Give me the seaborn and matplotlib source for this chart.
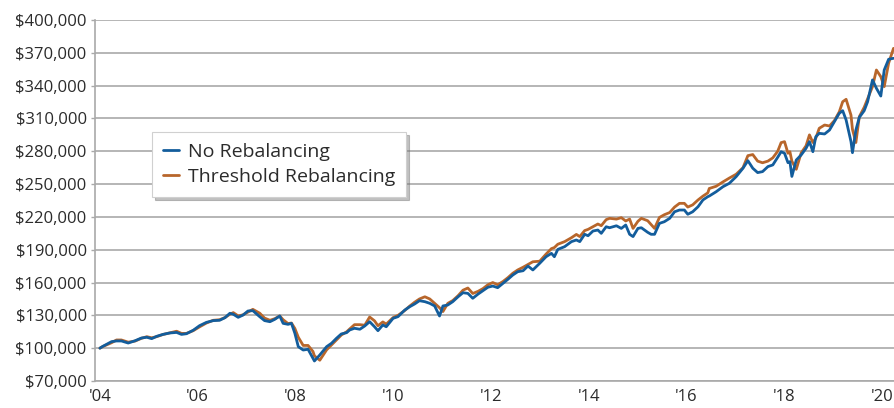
import matplotlib
matplotlib.use("Agg")
import matplotlib.pyplot as plt
import seaborn as sns
import pandas as pd
from matplotlib.ticker import FuncFormatter, FixedLocator

# ---------------- data (values in $ thousands) ----------------
years = [2004.00, 2004.06, 2004.24, 2004.34, 2004.44, 2004.58, 2004.72, 2004.85, 2004.96,
         2005.06, 2005.16, 2005.29, 2005.43, 2005.57, 2005.67, 2005.77, 2005.91,
         2006.04, 2006.18, 2006.32, 2006.45, 2006.56, 2006.66, 2006.73, 2006.83, 2006.93,
         2007.03, 2007.13, 2007.27, 2007.37, 2007.48, 2007.58, 2007.68, 2007.75, 2007.85, 2007.92, 2007.99,
         2008.06, 2008.16, 2008.26, 2008.36, 2008.39, 2008.50, 2008.64, 2008.74, 2008.84, 2008.94,
         2009.05, 2009.11, 2009.21, 2009.32, 2009.42, 2009.52, 2009.62, 2009.69, 2009.79, 2009.86,
         2010.00, 2010.10, 2010.24, 2010.34, 2010.44, 2010.54, 2010.65, 2010.75, 2010.85, 2010.95,
         2011.02, 2011.12, 2011.22, 2011.33, 2011.43, 2011.53, 2011.63, 2011.74, 2011.84, 2011.94,
         2012.04, 2012.14, 2012.25, 2012.35, 2012.45, 2012.55, 2012.66, 2012.76, 2012.86,
         2013.00, 2013.13, 2013.24, 2013.30, 2013.37, 2013.51, 2013.65, 2013.75, 2013.82, 2013.92, 2013.99,
         2014.09, 2014.19, 2014.26, 2014.36, 2014.43, 2014.57, 2014.67, 2014.76, 2014.84, 2014.91,
         2015.01, 2015.08, 2015.21, 2015.28, 2015.35, 2015.45, 2015.55, 2015.66, 2015.76, 2015.86, 2015.96,
         2016.03, 2016.13, 2016.24, 2016.34, 2016.44, 2016.47, 2016.61, 2016.75, 2016.88,
         2017.02, 2017.16, 2017.26, 2017.36, 2017.46, 2017.56, 2017.67, 2017.77, 2017.87, 2017.94,
         2018.01, 2018.08, 2018.12, 2018.16, 2018.25, 2018.35, 2018.45, 2018.52, 2018.59, 2018.65,
         2018.72, 2018.83, 2018.93,
         2019.03, 2019.13, 2019.20, 2019.27, 2019.37, 2019.40, 2019.47, 2019.54, 2019.64, 2019.71,
         2019.81, 2019.89, 2019.98, 2020.05, 2020.14, 2020.24]

no_rebalancing = [100.0, 101.7, 106.0, 106.6, 106.6, 104.7, 106.8, 109.3, 110.0,
                  108.7, 110.8, 112.6, 113.9, 114.4, 112.6, 113.2, 116.4,
                  120.6, 123.6, 125.2, 125.5, 127.9, 131.9, 131.0, 128.2, 130.3,
                  134.0, 134.3, 128.8, 125.2, 124.2, 126.4, 129.4, 122.7, 121.8, 122.7, 113.6,
                  101.4, 98.3, 99.0, 90.8, 88.3, 93.8, 101.4, 104.5, 109.0, 113.0,
                  114.2, 116.6, 118.2, 117.3, 120.3, 124.2, 119.6, 116.0, 121.2, 119.6,
                  127.3, 128.8, 134.9, 137.9, 140.4, 143.4, 142.5, 141.0, 138.6, 129.4,
                  138.6, 139.5, 142.5, 147.0, 150.7, 150.1, 145.6, 149.5, 152.6, 155.7,
                  156.8, 155.3, 159.3, 163.0, 166.9, 169.9, 170.8, 175.1, 171.5,
                  177.6, 183.6, 186.7, 183.6, 190.3, 192.8, 197.4, 198.9, 197.4, 204.1, 202.8,
                  207.1, 208.0, 205.0, 211.0, 210.1, 211.9, 209.5, 212.6, 204.1, 202.0,
                  209.5, 210.1, 205.9, 204.1, 204.1, 214.1, 215.6, 218.7, 224.7, 226.3, 226.3,
                  222.4, 224.7, 229.3, 235.5, 238.5, 239.1, 243.0, 247.6, 250.7,
                  256.8, 264.5, 271.4, 264.5, 260.5, 261.4, 266.0, 267.5, 274.5, 279.6,
                  278.2, 269.6, 270.5, 257.0, 272.0, 276.6, 282.7, 288.8, 279.6, 293.3,
                  296.4, 295.8, 299.4,
                  307.0, 314.7, 317.1, 308.6, 288.8, 278.7, 299.4, 311.0, 317.1, 325.3,
                  345.2, 337.6, 330.5, 354.3, 364.1, 365.0]

threshold_rebalancing = [100.0, 101.5, 105.0, 107.5, 107.5, 105.5, 106.5, 109.0, 110.5,
                         109.5, 110.5, 112.5, 114.0, 115.5, 113.5, 113.5, 116.0,
                         119.5, 123.0, 125.5, 126.0, 128.0, 131.0, 132.5, 129.5, 130.5,
                         133.0, 135.5, 132.0, 127.5, 125.5, 127.0, 129.5, 126.0, 122.5, 123.0, 118.0,
                         110.0, 102.5, 102.5, 97.0, 93.0, 89.0, 98.5, 103.0, 107.5, 112.0,
                         115.0, 117.5, 121.5, 121.5, 121.0, 128.5, 125.0, 120.5, 124.0, 122.0,
                         128.0, 130.0, 134.5, 138.5, 142.0, 145.0, 147.0, 145.0, 141.0, 137.0,
                         133.5, 141.0, 143.5, 148.0, 153.0, 155.0, 150.0, 152.0, 154.5, 158.0,
                         160.0, 158.0, 161.0, 164.5, 168.5, 171.5, 174.0, 176.5, 179.0,
                         179.5, 186.0, 191.0, 192.0, 195.0, 197.4, 201.0, 204.0, 202.0, 207.5, 208.6,
                         211.0, 213.5, 212.0, 217.5, 218.7, 218.0, 219.3, 216.3, 218.0, 209.5,
                         216.0, 218.7, 216.5, 213.0, 209.5, 219.5, 222.0, 224.0, 229.0, 232.4, 232.4,
                         229.0, 231.0, 235.5, 239.0, 242.0, 246.0, 248.0, 252.0, 255.5,
                         259.0, 265.0, 276.0, 277.0, 271.0, 269.5, 271.0, 274.0, 280.0, 287.9,
                         288.8, 278.2, 279.6, 271.0, 263.5, 278.5, 285.0, 295.0, 288.0, 292.0,
                         301.0, 304.0, 303.1,
                         308.0, 316.0, 325.3, 327.5, 313.0, 300.0, 288.0, 311.6, 320.2, 328.0,
                         339.1, 354.3, 348.2, 339.1, 360.5, 374.1]

y_ticks = [70000, 100000, 130000, 160000, 190000, 220000, 250000, 280000, 310000, 340000, 370000, 400000]
x_ticks = [2004, 2006, 2008, 2010, 2012, 2014, 2016, 2018, 2020]
x_labels = ["'04", "'06", "'08", "'10", "'12", "'14", "'16", "'18", "'20"]
series_names = ["No Rebalancing", "Threshold Rebalancing"]

# ---------------- figure ----------------
sns.set_theme(style="white")
plt.rcParams["font.family"] = ["Open Sans", "DejaVu Sans"]

BLUE = "#135d9c"
ORANGE = "#b8662b"
GRID = "#a9a9a9"
TEXT = "#2b2b2b"

df = pd.DataFrame({
    "year": years,
    series_names[0]: [v * 1000 for v in no_rebalancing],
    series_names[1]: [v * 1000 for v in threshold_rebalancing],
})

fig = plt.figure(figsize=(8.94, 4.08), dpi=100)
ax = fig.add_axes([95 / 894, 27 / 408, 799 / 894, 361 / 408])

sns.lineplot(data=df, x="year", y=series_names[1], ax=ax, color=ORANGE,
             linewidth=2.0, label=series_names[1], zorder=3)
sns.lineplot(data=df, x="year", y=series_names[0], ax=ax, color=BLUE,
             linewidth=2.0, label=series_names[0], zorder=4)

ax.set_xlim(2003.9, 2020.25)
ax.set_ylim(70000, 400000)
ax.yaxis.set_major_locator(FixedLocator(y_ticks))
ax.yaxis.set_major_formatter(FuncFormatter(lambda v, p: f"${v:,.0f}"))
ax.set_xticks(x_ticks)
ax.set_xticklabels(x_labels)
ax.set_xlabel("")
ax.set_ylabel("")

ax.grid(axis="y", color=GRID, linewidth=1.2, zorder=0)
ax.set_axisbelow(True)
for s in ["top", "right"]:
    ax.spines[s].set_visible(False)
for s in ["left", "bottom"]:
    ax.spines[s].set_color(GRID)
    ax.spines[s].set_linewidth(1.2)

ax.tick_params(axis="y", which="major", length=3, width=1.0, color=GRID,
               labelsize=12, labelcolor=TEXT, pad=3, left=True)
ax.tick_params(axis="x", which="major", length=0, labelsize=12,
               labelcolor=TEXT, pad=6)

handles, labels = ax.get_legend_handles_labels()
order = [labels.index(series_names[0]), labels.index(series_names[1])]
leg = ax.legend([handles[i] for i in order], [labels[i] for i in order],
                loc="upper left", bbox_to_anchor=((152 - 95) / 799, 1 - (132 - 20) / 361),
                borderaxespad=0, frameon=True, fancybox=False,
                shadow={"color": "#777777", "alpha": 0.45},
                fontsize=14, handlelength=0.85, handletextpad=0.45,
                borderpad=0.55, labelspacing=0.38, framealpha=1)
leg.get_frame().set_edgecolor("#d0d0d0")
leg.get_frame().set_linewidth(0.8)
for t in leg.get_texts():
    t.set_color(TEXT)
for h in leg.legend_handles:
    h.set_linewidth(2.0)

fig.savefig("out.png", dpi=100)
